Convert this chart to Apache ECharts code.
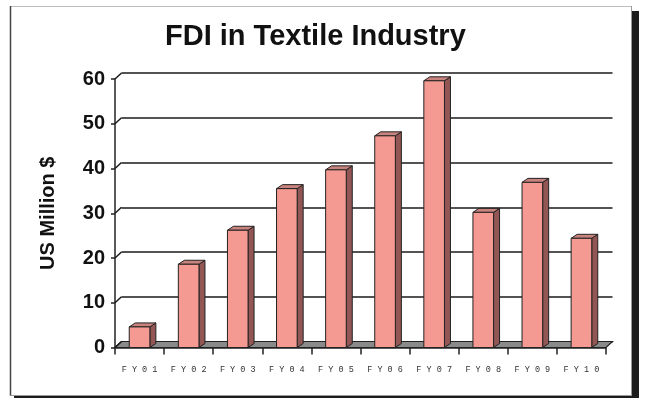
<!DOCTYPE html>
<html>
<head>
<meta charset="utf-8">
<script src="https://cdn.jsdelivr.net/npm/echarts@6/dist/echarts.min.js"></script>
<style>html,body{margin:0;padding:0;background:#fff;}#c{width:645px;height:398px;}</style>
</head>
<body>
<div id="c"></div>
<script>
const categories = ['FY01','FY02','FY03','FY04','FY05','FY06','FY07','FY08','FY09','FY10'];
const fdiValues = [4.6, 18.6, 26.2, 35.5, 39.7, 47.3, 59.6, 30.2, 36.9, 24.4];
const yTicks = [0, 10, 20, 30, 40, 50, 60];

const DX = 6.5, DY = 6;      // back-wall offset
const BDX = 6, BDY = 4;      // bar depth offset

const chart = echarts.init(document.getElementById('c'), null, {renderer: 'canvas'});

const axisFont = 'Liberation Sans, Arial, sans-serif';

chart.setOption({
  animation: false,
  backgroundColor: '#fff',
  graphic: [
    {type: 'rect', shape: {x: 14, y: 11, width: 625, height: 390}, style: {fill: '#1c1c1c'}, z: -10},
    {type: 'rect', shape: {x: 10, y: 6, width: 622, height: 390}, style: {fill: '#fff'}, z: -9},
    {type: 'line', shape: {x1: 10, y1: 6.5, x2: 632, y2: 6.5}, style: {stroke: '#bdbdbd', lineWidth: 1}, z: -8},
    {type: 'line', shape: {x1: 10.5, y1: 6, x2: 10.5, y2: 396}, style: {stroke: '#444', lineWidth: 1.5}, z: -8},
    {type: 'line', shape: {x1: 631.5, y1: 6, x2: 631.5, y2: 396}, style: {stroke: '#999', lineWidth: 1}, z: -8},
    {type: 'line', shape: {x1: 10, y1: 395.5, x2: 632, y2: 395.5}, style: {stroke: '#999', lineWidth: 1}, z: -8}
  ],
  title: {
    text: 'FDI in Textile Industry',
    left: 160,
    top: 17,
    textStyle: {fontFamily: axisFont, fontWeight: 'bold', fontSize: 29, color: '#111'}
  },
  grid: [
    {left: 115, right: 39, top: 79, bottom: 50.5},
    {left: 115 + DX, right: 39 - DX, top: 79 - DY, bottom: 50.5 + DY}
  ],
  xAxis: [
    {
      type: 'category', gridIndex: 0, data: categories,
      axisLine: {show: true, lineStyle: {color: '#222', width: 1.5}},
      axisTick: {show: true, length: 7, lineStyle: {color: '#222', width: 1.5}},
      axisLabel: {
        margin: 18, color: '#333', fontFamily: 'Liberation Mono, Courier New, monospace', fontSize: 8.5,
        formatter: v => v.split('').join(' ')
      },
      splitLine: {show: false}
    },
    {
      type: 'category', gridIndex: 1, data: categories, show: false
    }
  ],
  yAxis: [
    {
      type: 'value', gridIndex: 0, min: 0, max: 60, interval: 10,
      name: 'US Million $', nameLocation: 'middle', nameGap: 57, nameRotate: 90,
      nameTextStyle: {fontFamily: axisFont, fontWeight: 'bold', fontSize: 20, color: '#111'},
      axisLine: {show: true, lineStyle: {color: '#222', width: 1.5}},
      axisTick: {show: true, length: 4, lineStyle: {color: '#222', width: 1.5}},
      axisLabel: {margin: 10, fontFamily: axisFont, fontWeight: 'bold', fontSize: 20, color: '#111'},
      splitLine: {show: false}
    },
    {
      type: 'value', gridIndex: 1, min: 0, max: 60, interval: 10,
      axisLine: {show: false}, axisTick: {show: false}, axisLabel: {show: false},
      splitLine: {show: true, lineStyle: {color: '#1a1a1a', width: 1.5}}
    }
  ],
  series: [
    {
      type: 'custom', xAxisIndex: 0, yAxisIndex: 0, z: 1,
      data: [0],
      renderItem: function (params, api) {
        const cs = params.coordSys;
        const y0 = api.coord([0, 0])[1];
        const x0 = cs.x, x1 = cs.x + cs.width;
        return {
          type: 'polygon',
          shape: {points: [[x0, y0], [x1, y0], [x1 + DX, y0 - DY], [x0 + DX, y0 - DY]]},
          style: {fill: '#8a8a8a', stroke: '#222', lineWidth: 1.2}
        };
      }
    },
    {
      type: 'custom', xAxisIndex: 0, yAxisIndex: 0, z: 1,
      data: yTicks.map(v => [0, v]),
      renderItem: function (params, api) {
        const cs = params.coordSys;
        const y = api.coord([0, api.value(1)])[1];
        return {
          type: 'line',
          shape: {x1: cs.x, y1: y, x2: cs.x + DX, y2: y - DY},
          style: {stroke: '#1a1a1a', lineWidth: 1.5}
        };
      }
    },
    {
      type: 'custom', xAxisIndex: 0, yAxisIndex: 0, z: 3,
      data: fdiValues.map((v, i) => [i, v]),
      renderItem: function (params, api) {
        const i = api.value(0), v = api.value(1);
        const top = api.coord([i, v]);
        const bot = api.coord([i, 0]);
        const w = api.size([1, 0])[0] * 0.42;
        const xl = top[0] - w / 2, xr = top[0] + w / 2;
        const yt = top[1], yb = bot[1];
        const edge = {stroke: '#222', lineWidth: 1};
        return {
          type: 'group',
          children: [
            {type: 'polygon', shape: {points: [[xr, yt], [xr + BDX, yt - BDY], [xr + BDX, yb - BDY], [xr, yb]]},
             style: Object.assign({fill: '#925654'}, edge)},
            {type: 'polygon', shape: {points: [[xl, yt], [xr, yt], [xr + BDX, yt - BDY], [xl + BDX, yt - BDY]]},
             style: Object.assign({fill: '#c9837e'}, edge)},
            {type: 'rect', shape: {x: xl, y: yt, width: w, height: yb - yt},
             style: Object.assign({fill: '#f59a92'}, edge)}
          ]
        };
      }
    }
  ]
});
</script>
</body>
</html>
